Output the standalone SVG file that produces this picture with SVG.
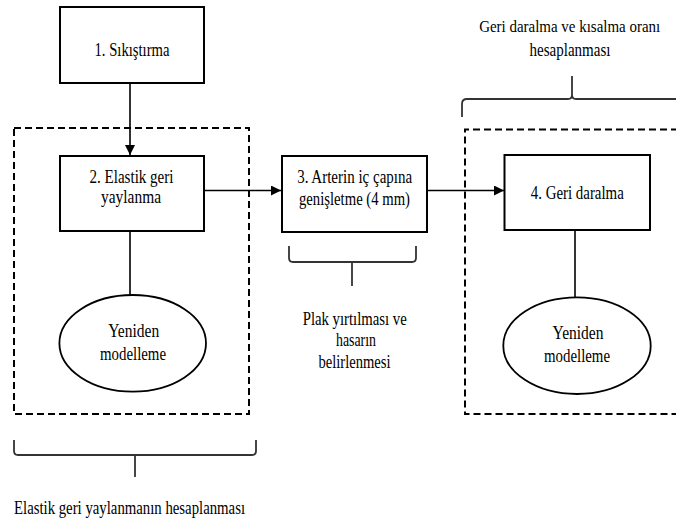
<svg xmlns="http://www.w3.org/2000/svg" width="676" height="523" viewBox="0 0 676 523">
<style>
  .box{fill:#fff;stroke:#000;stroke-width:2}
  .ell{fill:#fff;stroke:#000;stroke-width:1.8}
  .dash{fill:none;stroke:#000;stroke-width:2;stroke-dasharray:7 4}
  .ln{fill:none;stroke:#000;stroke-width:1.6}
  .br{fill:none;stroke:#333;stroke-width:1.8}
  .t{font-family:"Liberation Serif","Times New Roman",serif;font-size:18px;fill:#000;text-anchor:middle}
  .s{font-size:17px}
</style>
<defs>
  <marker id="arr" viewBox="0 0 10 10" refX="10" refY="5" markerWidth="11" markerHeight="10" markerUnits="userSpaceOnUse" orient="auto">
    <path d="M0,0 L10,5 L0,10 Z" fill="#000"/>
  </marker>
</defs>

<g id="groups">
  <rect id="group-left" class="dash" x="14" y="128" width="235" height="286"/>
  <path id="group-right" class="dash" d="M700,129.5 L465,129.5 L465,414 L700,414"/>
</g>

<g id="connectors">
  <line class="ln" x1="130" y1="83" x2="130" y2="155" marker-end="url(#arr)"/>
  <line class="ln" x1="204" y1="190.5" x2="281" y2="190.5" marker-end="url(#arr)"/>
  <line class="ln" x1="427" y1="190.5" x2="504" y2="190.5" marker-end="url(#arr)"/>
  <line class="ln" x1="130" y1="230" x2="130" y2="295"/>
  <line class="ln" x1="575" y1="230" x2="575" y2="297"/>
</g>

<g id="braces">
  <path class="br" d="M289,246 L289,258 Q289,262 293,262 L412,262 Q416,262 416,258 L416,246 M352,262 L352,286"/>
  <path class="br" d="M14,440 L14,451 Q14,455 18,455 L252,455 Q256,455 256,451 L256,440 M135,455 L135,477"/>
  <path class="br" d="M462,117 L462,104 Q462,99 467,99 L568,99 Q572,99 572,95 L572,76 M572,95 Q572,99 576,99 L690,99"/>
</g>

<g id="node1">
  <rect class="box" x="60" y="7" width="144" height="76"/>
  <text class="t" x="132" y="56" textLength="75" lengthAdjust="spacingAndGlyphs">1. Sıkıştırma</text>
</g>

<g id="node2">
  <rect class="box" x="60" y="156" width="144" height="75"/>
  <text class="t" x="131.5" y="183" textLength="84" lengthAdjust="spacingAndGlyphs">2. Elastik geri</text>
  <text class="t" x="131" y="203" textLength="60" lengthAdjust="spacingAndGlyphs">yaylanma</text>
</g>

<g id="node3">
  <rect class="box" x="282" y="156" width="145" height="76"/>
  <text class="t" x="354.7" y="183" textLength="115" lengthAdjust="spacingAndGlyphs">3. Arterin iç çapına</text>
  <text class="t" x="354.5" y="205" textLength="111" lengthAdjust="spacingAndGlyphs">genişletme (4 mm)</text>
</g>

<g id="node4">
  <rect class="box" x="504.5" y="155" width="145.5" height="75"/>
  <text class="t" x="577.3" y="199" textLength="93" lengthAdjust="spacingAndGlyphs">4. Geri daralma</text>
</g>

<g id="ellipse1">
  <ellipse class="ell" cx="132.7" cy="343.3" rx="73.3" ry="48.3"/>
  <text class="t" x="133.7" y="337" textLength="51" lengthAdjust="spacingAndGlyphs">Yeniden</text>
  <text class="t" x="133" y="360" textLength="66" lengthAdjust="spacingAndGlyphs">modelleme</text>
</g>

<g id="ellipse2">
  <ellipse class="ell" cx="577" cy="345.7" rx="73.7" ry="48.3"/>
  <text class="t" x="578" y="339" textLength="51" lengthAdjust="spacingAndGlyphs">Yeniden</text>
  <text class="t" x="577" y="362" textLength="66" lengthAdjust="spacingAndGlyphs">modelleme</text>
</g>

<g id="label-plak">
  <text class="t" x="354.7" y="325" textLength="104" lengthAdjust="spacingAndGlyphs">Plak yırtılması ve</text>
  <text class="t" x="356" y="346" textLength="40" lengthAdjust="spacingAndGlyphs">hasarın</text>
  <text class="t" x="354.5" y="368" textLength="72" lengthAdjust="spacingAndGlyphs">belirlenmesi</text>
</g>

<g id="label-geri">
  <text class="t s" x="569.7" y="32" textLength="181" lengthAdjust="spacingAndGlyphs">Geri daralma ve kısalma oranı</text>
  <text class="t" x="570" y="56" textLength="81" lengthAdjust="spacingAndGlyphs">hesaplanması</text>
</g>

<g id="label-elastik">
  <text class="t" x="129.5" y="514" textLength="231" lengthAdjust="spacingAndGlyphs">Elastik geri yaylanmanın hesaplanması</text>
</g>
</svg>
